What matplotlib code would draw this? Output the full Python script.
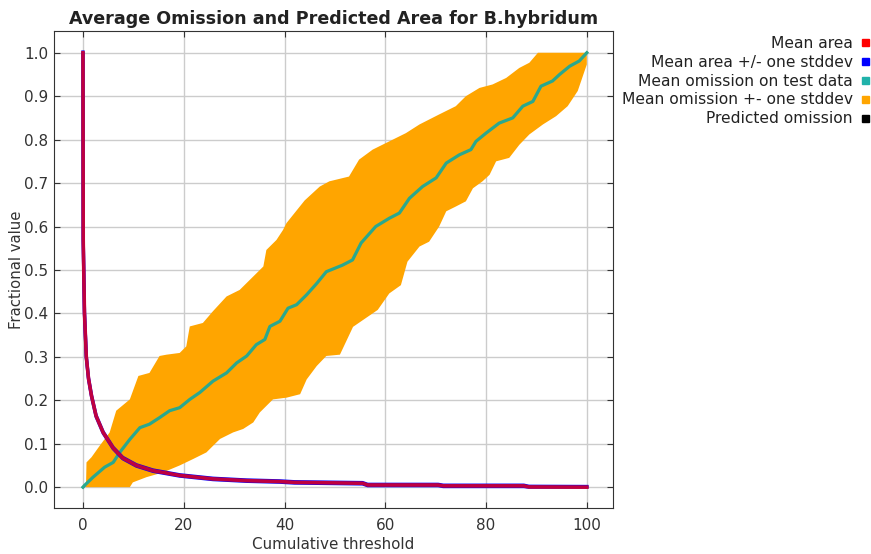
import matplotlib.pyplot as plt
import numpy as np

# cumulative threshold vs fractional value (omission / predicted area)
omis_x = [0, 0.3, 2, 4.3, 6, 7.3, 9.3, 11.3, 13.2, 15.2, 17.2, 19.2, 21.2, 23.2,
          25.8, 28.5, 30.5, 32.5, 34.4, 36.1, 37.1, 39.1, 40.7, 42.4, 44.4, 46.4,
          48.3, 51.5, 53.5, 55.2, 58.1, 60.8, 62.8, 64.8, 67.4, 70.1, 72.1, 74.7,
          77, 78, 80, 82.6, 85.3, 87.3, 89.3, 90.9, 93.2, 94.6, 96.6, 98.5, 100]
omis_y = [0, 0.004, 0.023, 0.046, 0.057, 0.08, 0.11, 0.137, 0.145, 0.16, 0.176,
          0.183, 0.202, 0.218, 0.244, 0.263, 0.286, 0.302, 0.328, 0.34, 0.37,
          0.382, 0.412, 0.42, 0.443, 0.469, 0.496, 0.511, 0.523, 0.562, 0.6,
          0.619, 0.631, 0.665, 0.692, 0.712, 0.746, 0.765, 0.777, 0.796, 0.815,
          0.838, 0.85, 0.877, 0.888, 0.923, 0.935, 0.95, 0.969, 0.981, 1.0]

band_hi_x = [0.6, 0.7, 1.7, 3.3, 5.3, 6.6, 9.3, 11, 13.2, 15.2, 16.6, 19.2, 20.5,
             21.2, 23.8, 25.8, 28.5, 31.1, 33.8, 35.8, 36.4, 38.4, 39.7, 40.4, 44,
             47, 48.9, 52.8, 54.8, 57.5, 60.1, 64.1, 66.8, 70.7, 74, 76, 78.7,
             81.3, 84, 86.6, 88.6, 90.3, 100]
band_hi_y = [0.0, 0.057, 0.069, 0.095, 0.126, 0.176, 0.202, 0.256, 0.263, 0.302,
             0.305, 0.309, 0.324, 0.37, 0.378, 0.405, 0.439, 0.454, 0.485, 0.508,
             0.546, 0.569, 0.592, 0.608, 0.66, 0.692, 0.704, 0.715, 0.754, 0.777,
             0.792, 0.815, 0.835, 0.858, 0.877, 0.9, 0.919, 0.927, 0.942, 0.965,
             0.977, 1.0, 1.0]

band_lo_x = [0.6, 9.3, 9.9, 12.6, 15.9, 19.2, 21.9, 24.5, 25.8, 27.2, 29.8, 31.8,
             33.8, 35.1, 37.7, 40.4, 43.1, 44.4, 46.4, 48.3, 51, 53.6, 58.5, 60.8,
             63.1, 64.4, 66.8, 68.7, 70.7, 72.1, 74, 76, 77.4, 79.3, 80.7, 82,
             84.6, 86.6, 88.6, 91.3, 93.9, 96.2, 98.2, 100]
band_lo_y = [0, 0, 0.011, 0.023, 0.034, 0.05, 0.065, 0.08, 0.095, 0.111, 0.126,
             0.134, 0.149, 0.172, 0.202, 0.206, 0.214, 0.248, 0.279, 0.302, 0.305,
             0.369, 0.408, 0.446, 0.465, 0.519, 0.554, 0.565, 0.6, 0.635, 0.646,
             0.658, 0.688, 0.704, 0.719, 0.75, 0.758, 0.788, 0.812, 0.835, 0.854,
             0.877, 0.912, 0.973]

area_x = [0, 0.02, 0.05, 0.15, 0.3, 0.66, 1.1, 1.7, 2.6, 4, 6, 7.9, 10.6, 13.9,
          19.2, 25.8, 32.5, 39, 42, 55.5, 56.5, 70.5, 71.5, 87.5, 88.5, 100]
area_y = [1.0, 0.8, 0.57, 0.5, 0.4, 0.3, 0.25, 0.21, 0.164, 0.126, 0.09, 0.067,
          0.05, 0.038, 0.027, 0.019, 0.015, 0.013, 0.011, 0.009, 0.005, 0.005,
          0.003, 0.003, 0.0005, 0.0]
area_sd = 0.0015

pred_x = [0, 100]
pred_y = [0, 1]

legend_labels = ["Mean area", "Mean area +/- one stddev", "Mean omission on test data",
                 "Mean omission +- one stddev", "Predicted omission"]
legend_colors = ["#ff0000", "#0000ff", "#20b2aa", "#ffa500", "#000000"]

fig = plt.figure(figsize=(8.71, 5.54), dpi=100)
ax = fig.add_axes([0.062, 0.083, 0.6418, 0.861])

ax.plot(pred_x, pred_y, color="black", lw=1.5, zorder=2)
hx = np.array(band_hi_x)
lx = np.array(band_lo_x)
# upper and lower bounds have different sample points, so fill as one polygon
poly_x = np.concatenate([hx, lx[::-1]])
poly_y = np.concatenate([band_hi_y, band_lo_y[::-1]])
ax.fill(poly_x, poly_y, color="#ffa500", lw=0, zorder=3)
ax.plot(omis_x, omis_y, color="#2aa88e", lw=2.3, zorder=4)

ay = np.array(area_y)
ax.plot(area_x, ay + area_sd, color="#0000ff", lw=2.4, zorder=5)
ax.plot(area_x, np.clip(ay - area_sd, 0, None), color="#0000ff", lw=2.4, zorder=5)
ax.plot(area_x, ay, color="#ff0000", lw=2.6, alpha=0.75, zorder=6)

ax.set_xlim(-5.75, 105.2)
ax.set_ylim(-0.048, 1.05)
ax.set_xticks(np.arange(0, 101, 20))
ax.set_yticks(np.round(np.arange(0, 1.01, 0.1), 1))
ax.set_yticklabels([f"{v:.1f}" for v in np.arange(0, 1.01, 0.1)])
ax.grid(True, color="#cccccc", lw=1)
ax.set_axisbelow(True)
ax.tick_params(direction="in", length=4, top=True, right=True, labelsize=11,
               colors="#333333", labelcolor="#333333")
ax.tick_params(axis="x", pad=7)
ax.tick_params(axis="y", pad=4)
for s in ax.spines.values():
    s.set_color("#333333")

ax.set_title("Average Omission and Predicted Area for B.hybridum",
             fontsize=12.6, fontweight="bold", color="#222222", pad=5)
ax.set_xlabel("Cumulative threshold", fontsize=10.9, color="#333333", labelpad=3)
ax.set_ylabel("Fractional value", fontsize=10.7, color="#333333", labelpad=0)

# legend outside the axes: right-aligned text with a small colour square
for i, (lab, col) in enumerate(zip(legend_labels, legend_colors)):
    ypix = 43 + i * 19
    fig.text(853 / 871, 1 - ypix / 554, lab, ha="right", va="center",
             fontsize=11.2, color="#222222")
    fig.patches.append(plt.Rectangle((862 / 871, 1 - (ypix + 3) / 554), 7 / 871, 7 / 554,
                                     transform=fig.transFigure, color=col, figure=fig))

fig.savefig("out.png", dpi=100)
